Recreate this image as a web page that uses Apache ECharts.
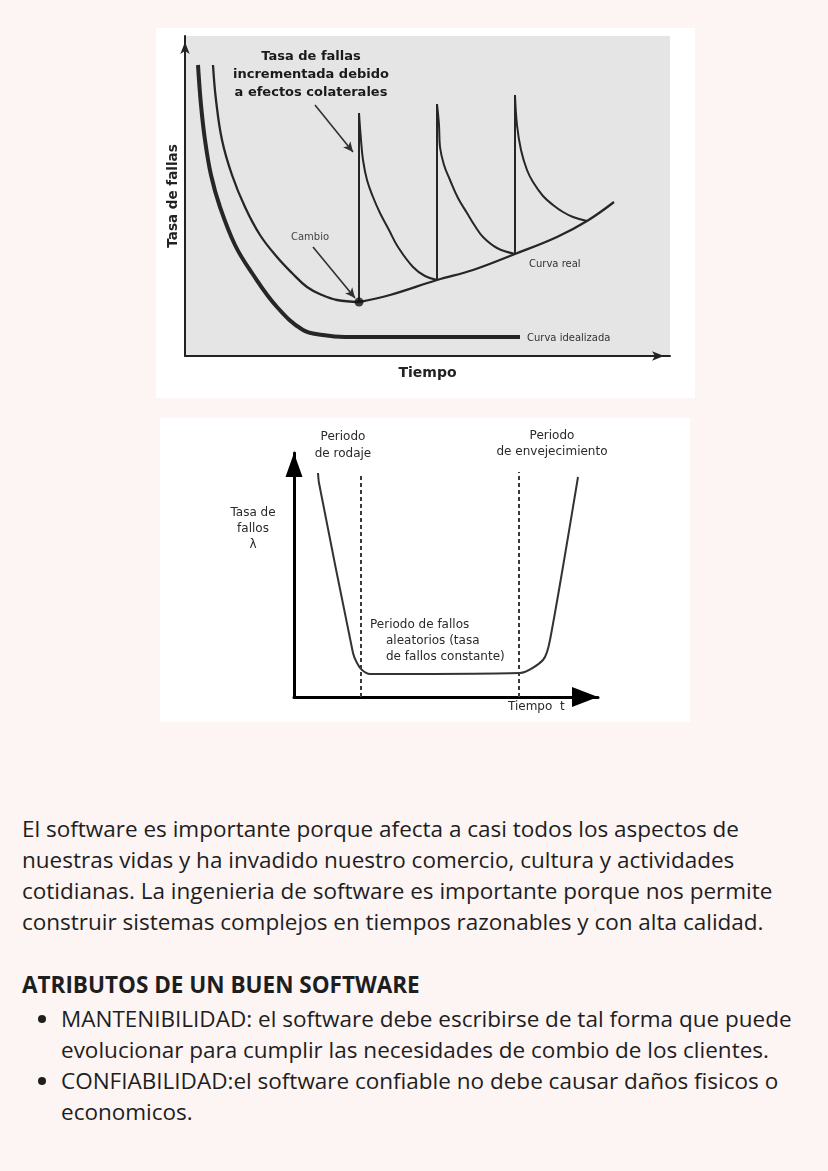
<!DOCTYPE html>
<html>
<head>
<meta charset="utf-8">
<script src="https://cdn.jsdelivr.net/npm/echarts@6/dist/echarts.min.js"></script>
<style>
html,body{margin:0;padding:0;background:#fdf4f4;}
#page{position:relative;width:828px;height:1171px;overflow:hidden;background:#fdf4f4;}
#chart{position:absolute;left:0;top:0;width:828px;height:740px;}
.t{position:absolute;left:22px;font-family:"Open Sans",sans-serif;font-size:22.5px;line-height:31px;color:#1e1e1e;white-space:nowrap;}
ul.t{margin:0;padding:0 0 0 39px;list-style:disc;}
</style>
</head>
<body>
<div id="page">
<div id="chart"></div>
<div class="t" style="top:813px">El software es importante porque afecta a casi todos los aspectos de<br>nuestras vidas y ha invadido nuestro comercio, cultura y actividades<br>cotidianas. La ingenieria de software es importante porque nos permite<br>construir sistemas complejos en tiempos razonables y con alta calidad.</div>
<div class="t" style="top:969px;font-weight:bold">ATRIBUTOS DE UN BUEN SOFTWARE</div>
<ul class="t" style="top:1003px">
<li>MANTENIBILIDAD: el software debe escribirse de tal forma que puede<br>evolucionar para cumplir las necesidades de combio de los clientes.</li>
<li>CONFIABILIDAD:el software confiable no debe causar daños fisicos o<br>economicos.</li>
</ul>
</div>
<script>
// ---------- Gráfico 1: curvas de tasa de fallas del software ----------
const curvaIdealizada = [[2.6,72.75],[3.2,62.75],[4.0,54.0],[5.2,45.25],[7.0,37.25],[10.0,27.75],[13.4,20.75],[18.4,12.25],[23.6,6.5],[27.6,5.25],[32.0,4.75],[67.0,4.75]];
const curvaRealBajada = [[5.6,72.75],[6.2,64.0],[7.4,54.0],[9.4,45.25],[12.0,37.25],[15.0,30.25],[18.4,24.75],[21.4,20.75],[24.4,17.25],[27.4,15.25],[30.4,14.0],[34.8,13.5]];
const curvaRealSubida = [[34.8,13.5],[41.0,15.25],[50.4,19.0],[57.6,21.5],[66.0,25.5],[74.4,29.75],[80.4,33.75],[85.8,38.5]];
const picos = [[34.8,13.5,60.75],[50.4,19.0,63.0],[66.0,25.5,65.25]]; // x, base, cima
const decaimiento1 = [[34.8,60.75],[35.2,54.0],[35.6,49.0],[36.4,44.0],[37.6,39.75],[39.0,35.75],[40.8,31.5],[42.6,27.25],[45.6,22.25],[48.0,20.0],[50.4,19.0]];
const decaimiento2 = [[50.4,63.0],[50.8,57.75],[51.0,52.25],[51.8,47.75],[53.0,44.0],[54.6,39.5],[56.4,35.75],[58.0,32.5],[59.6,29.75],[62.4,27.0],[66.0,25.5]];
const decaimiento3 = [[66.0,65.25],[66.4,57.75],[67.2,51.5],[68.4,46.5],[69.6,43.5],[71.6,40.0],[73.6,37.75],[75.6,36.0],[77.6,34.75],[80.4,33.75]];
const puntoCambio = [[34.8,13.5]];
const flechaCambio = [[25.6,27.25],[34.0,14.5]];
const flechaEfectos = [[26.0,62.75],[33.6,51.0]];

// ---------- Gráfico 2: curva de la bañera ----------
const curvaBanera = [[6.0,56.0],[6.25,53.5],[14.75,11.0],[15.75,8.5],[17.0,6.75],[19.0,5.75],[56.5,6.0],[62.25,9.25],[64.0,14.25],[71.0,55.0]];
const limiteRodaje = [[16.75,0],[16.75,55.5]];
const limiteEnvejecimiento = [[56.25,0],[56.25,56.25]];

const INK = '#262626';
const F1 = 'DejaVu Sans';

function axisBase(grid, max, name, extra) {
  return Object.assign({
    type: 'value', gridIndex: grid, min: 0, max: max,
    axisTick: {show: false}, axisLabel: {show: false}, splitLine: {show: false},
    name: name
  }, extra);
}

const series = [
  {type:'line', xAxisIndex:0, yAxisIndex:0, data:curvaIdealizada, smooth:0.4, showSymbol:false, lineStyle:{color:INK, width:4}, silent:true},
  {type:'line', xAxisIndex:0, yAxisIndex:0, data:curvaRealBajada, smooth:0.4, showSymbol:false, lineStyle:{color:INK, width:2.3}, silent:true},
  {type:'line', xAxisIndex:0, yAxisIndex:0, data:curvaRealSubida, smooth:0.4, showSymbol:false, lineStyle:{color:INK, width:2.3}, silent:true},
  {type:'line', xAxisIndex:0, yAxisIndex:0, data:decaimiento1, smooth:0.4, showSymbol:false, lineStyle:{color:INK, width:2}, silent:true},
  {type:'line', xAxisIndex:0, yAxisIndex:0, data:decaimiento2, smooth:0.4, showSymbol:false, lineStyle:{color:INK, width:2}, silent:true},
  {type:'line', xAxisIndex:0, yAxisIndex:0, data:decaimiento3, smooth:0.4, showSymbol:false, lineStyle:{color:INK, width:2}, silent:true}
];
picos.forEach(function(p){
  series.push({type:'line', xAxisIndex:0, yAxisIndex:0, data:[[p[0],p[1]],[p[0],p[2]]], showSymbol:false, lineStyle:{color:INK, width:2}, silent:true});
});
series.push({
  type:'scatter', xAxisIndex:0, yAxisIndex:0, data:puntoCambio, symbolSize:9, itemStyle:{color:'#111'}, silent:true, z:5,
  markLine:{
    silent:true, symbol:['none','arrow'], symbolSize:[7,10], label:{show:false},
    lineStyle:{color:'#303030', width:1.6, type:'solid'},
    data:[
      [{coord:flechaCambio[0]},{coord:flechaCambio[1]}],
      [{coord:flechaEfectos[0]},{coord:flechaEfectos[1]}]
    ]
  }
});
series.push({type:'line', xAxisIndex:1, yAxisIndex:1, data:curvaBanera, smooth:0.25, showSymbol:false, lineStyle:{color:'#333', width:2}, silent:true});
series.push({type:'line', xAxisIndex:1, yAxisIndex:1, data:limiteRodaje, showSymbol:false, lineStyle:{color:'#3a3a3a', width:2, type:[4,3]}, silent:true});
series.push({type:'line', xAxisIndex:1, yAxisIndex:1, data:limiteEnvejecimiento, showSymbol:false, lineStyle:{color:'#3a3a3a', width:2, type:[4,3]}, silent:true});

function txt(x, y, text, style) {
  return {type:'text', z:50, silent:true, style:Object.assign({x:x, y:y, text:text, fill:'#333', font:'11px "' + F1 + '"', align:'left', verticalAlign:'middle'}, style)};
}

const option = {
  animation: false,
  backgroundColor: 'transparent',
  grid: [
    {left:185, top:36, width:485, height:320},
    {left:294, top:453, width:304, height:244}
  ],
  xAxis: [
    axisBase(0, 97, 'Tiempo', {
      nameLocation:'middle', nameGap:10,
      nameTextStyle:{fontFamily:F1, fontWeight:'bold', fontSize:14, color:'#222'},
      axisLine:{show:true, lineStyle:{color:'#222', width:2}, symbol:['none','arrow'], symbolSize:[7,12], symbolOffset:[0,-6]}
    }),
    axisBase(1, 76, '', {
      axisLine:{show:true, lineStyle:{color:'#000', width:3}, symbol:['none','triangle'], symbolSize:[20,26], symbolOffset:[0,-13]}
    })
  ],
  yAxis: [
    axisBase(0, 80, 'Tasa de fallas', {
      nameLocation:'middle', nameGap:5, nameRotate:90,
      nameTextStyle:{fontFamily:F1, fontWeight:'bold', fontSize:13.5, color:'#222'},
      axisLine:{show:true, lineStyle:{color:'#222', width:2}, symbol:['none','arrow'], symbolSize:[7,12], symbolOffset:[0,-6]}
    }),
    axisBase(1, 61, '', {
      axisLine:{show:true, lineStyle:{color:'#000', width:3}, symbol:['none','triangle'], symbolSize:[17,24], symbolOffset:[0,-12]}
    })
  ],
  graphic: [
    {type:'rect', z:-20, silent:true, shape:{x:156, y:28, width:539, height:370}, style:{fill:'#ffffff'}},
    {type:'rect', z:-19, silent:true, shape:{x:185, y:36, width:485, height:320}, style:{fill:'#e5e5e5'}},
    {type:'rect', z:-20, silent:true, shape:{x:160, y:418, width:530, height:304}, style:{fill:'#ffffff'}},
    txt(311, 75, 'Tasa de fallas\nincrementada debido\na efectos colaterales', {align:'center', font:'bold 13px "' + F1 + '"', fill:'#1a1a1a', lineHeight:18}),
    txt(310, 237, 'Cambio', {align:'center', font:'10px "' + F1 + '"', fill:'#444'}),
    txt(529, 264, 'Curva real', {font:'10px "' + F1 + '"', fill:'#333'}),
    txt(527, 338, 'Curva idealizada', {font:'10px "' + F1 + '"', fill:'#333'}),
    txt(343, 445.5, 'Periodo\nde rodaje', {align:'center', font:'12px "' + F1 + '"', fill:'#2a2a2a', lineHeight:17}),
    txt(552, 444, 'Periodo\nde envejecimiento', {align:'center', font:'12px "' + F1 + '"', fill:'#2a2a2a', lineHeight:16}),
    txt(253, 529, 'Tasa de\nfallos\nλ', {align:'center', font:'12px "' + F1 + '"', fill:'#2a2a2a', lineHeight:16}),
    txt(370, 625, 'Periodo de fallos', {font:'12px "' + F1 + '"', fill:'#2a2a2a'}),
    txt(386, 641, 'aleatorios (tasa', {font:'12px "' + F1 + '"', fill:'#2a2a2a'}),
    txt(386, 657, 'de fallos constante)', {font:'12px "' + F1 + '"', fill:'#2a2a2a'}),
    txt(508, 707, 'Tiempo  t', {font:'12px "' + F1 + '"', fill:'#2a2a2a'})
  ],
  series: series
};

const chart = echarts.init(document.getElementById('chart'));
chart.setOption(option);
</script>
</body>
</html>
